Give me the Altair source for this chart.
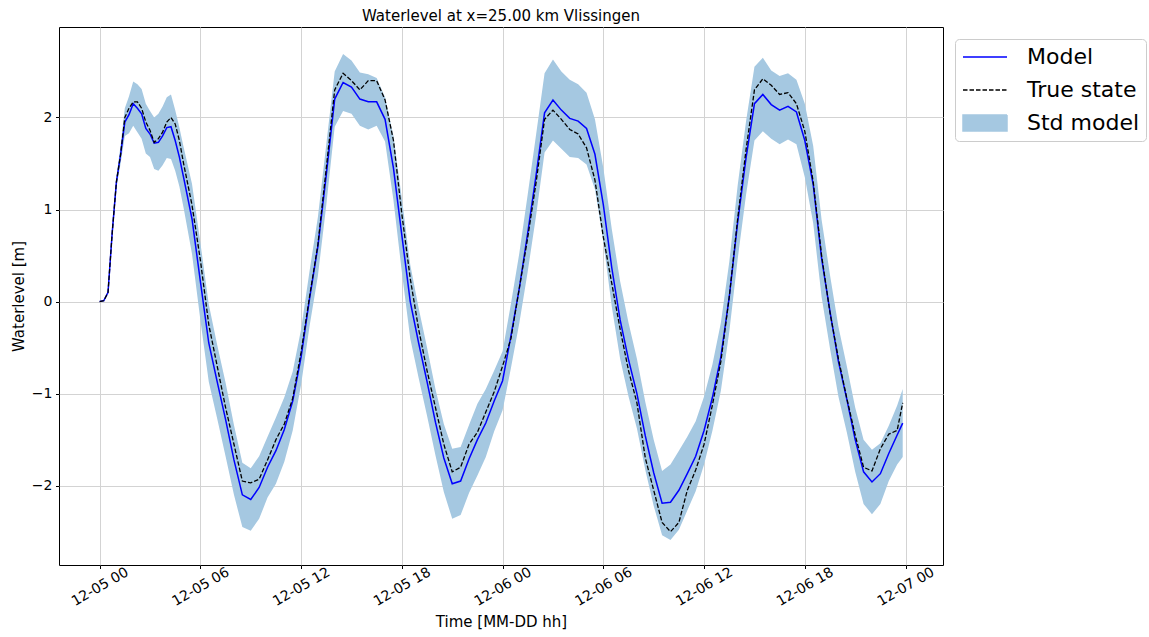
import datetime as dt
import altair as alt
import pandas as pd

# ---- data ----
hours = [0, 0.25, 0.5, 0.75, 1.0, 1.25, 1.5, 1.75, 2.0, 2.25, 2.5, 2.75, 3.0, 3.25, 3.5, 3.75,
         4.0, 4.25, 4.5, 4.75, 5.0,
         5.5, 6.0, 6.5, 7.0, 7.5, 8.0, 8.5, 9.0, 9.5, 10.0,
         10.5, 11.0, 11.5, 12.0, 12.5, 13.0, 13.5, 14.0, 14.5, 15.0,
         15.5, 16.0, 16.5, 17.0, 17.5, 18.0, 18.5, 19.0, 19.5, 20.0,
         20.5, 21.0, 21.5, 22.0, 22.5, 23.0, 23.5, 24.0, 24.5, 25.0,
         25.5, 26.0, 26.5, 27.0, 27.5, 28.0, 28.5, 29.0, 29.5, 30.0,
         30.5, 31.0, 31.5, 32.0, 32.5, 33.0, 33.5, 34.0, 34.5, 35.0,
         35.5, 36.0, 36.5, 37.0, 37.5, 38.0, 38.5, 39.0, 39.5, 40.0,
         40.5, 41.0, 41.5, 42.0, 42.5, 43.0, 43.5, 44.0, 44.5, 45.0,
         45.5, 46.0, 46.5, 47.0, 47.5, 47.83]

model = [0.0, 0.01, 0.1, 0.75, 1.3, 1.6, 1.95, 2.03, 2.15, 2.1, 2.04, 1.88, 1.82, 1.72, 1.73, 1.8,
         1.89, 1.9, 1.75, 1.57, 1.35,
         0.9, 0.22, -0.45, -0.87, -1.28, -1.72, -2.1, -2.15, -2.02, -1.8,
         -1.62, -1.39, -1.08, -0.6, 0.03, 0.6, 1.38, 2.2, 2.38, 2.33,
         2.2, 2.17, 2.17, 1.98, 1.45, 0.72, 0.0, -0.45, -0.87, -1.31,
         -1.7, -1.98, -1.95, -1.71, -1.5, -1.32, -1.08, -0.86, -0.37, 0.15,
         0.75, 1.38, 2.05, 2.19, 2.08, 1.99, 1.96, 1.88, 1.6, 1.05,
         0.37, -0.2, -0.63, -1.0, -1.46, -1.86, -2.19, -2.18, -2.05, -1.87,
         -1.68, -1.4, -1.04, -0.6, 0.05, 0.86, 1.56, 2.15, 2.25, 2.14,
         2.08, 2.12, 2.06, 1.75, 1.27, 0.47, -0.11, -0.65, -1.06, -1.5,
         -1.85, -1.96, -1.87, -1.65, -1.45, -1.32]

true_state = [0.0, 0.01, 0.1, 0.75, 1.3, 1.6, 2.0, 2.1, 2.17, 2.17, 2.1, 1.95, 1.86, 1.73, 1.77, 1.84,
              1.95, 2.0, 1.93, 1.75, 1.5,
              1.05, 0.45, -0.25, -0.7, -1.15, -1.55, -1.95, -1.97, -1.93, -1.72,
              -1.5, -1.33, -1.05, -0.55, 0.05, 0.62, 1.45, 2.3, 2.48, 2.4,
              2.3, 2.4, 2.4, 2.19, 1.75, 0.95, 0.25, -0.3, -0.75, -1.15,
              -1.55, -1.85, -1.8, -1.55, -1.42, -1.2, -0.98, -0.7, -0.4, 0.15,
              0.7, 1.3, 1.98, 2.08, 1.98, 1.87, 1.82, 1.67, 1.32, 0.7,
              0.2, -0.3, -0.75, -1.1, -1.7, -2.05, -2.4, -2.5, -2.4, -2.05,
              -1.83, -1.55, -1.12, -0.65, 0.05, 0.9, 1.65, 2.3, 2.42, 2.35,
              2.25, 2.27, 2.15, 1.85, 1.3, 0.5, -0.12, -0.62, -1.05, -1.45,
              -1.8, -1.84, -1.6, -1.44, -1.4, -1.1]

std_model = [0.0, 0.0, 0.01, 0.03, 0.06, 0.1, 0.15, 0.2, 0.24, 0.26, 0.27, 0.27, 0.25, 0.28, 0.31, 0.32,
             0.33, 0.35, 0.33, 0.32, 0.33,
             0.38, 0.42, 0.42, 0.4, 0.4, 0.38, 0.35, 0.34, 0.34, 0.33,
             0.36, 0.35, 0.32, 0.3, 0.3, 0.32, 0.33, 0.3, 0.31, 0.29,
             0.29, 0.3, 0.26, 0.24, 0.35, 0.4, 0.4, 0.38, 0.37, 0.36,
             0.37, 0.38, 0.37, 0.37, 0.39, 0.37, 0.33, 0.32, 0.35, 0.38,
             0.42, 0.44, 0.43, 0.44, 0.42, 0.42, 0.4, 0.39, 0.38, 0.4,
             0.42, 0.42, 0.4, 0.38, 0.37, 0.36, 0.35, 0.41, 0.43, 0.4,
             0.38, 0.37, 0.36, 0.37, 0.38, 0.4, 0.4, 0.4, 0.4, 0.37,
             0.37, 0.36, 0.35, 0.4, 0.42, 0.42, 0.4, 0.38, 0.36, 0.35,
             0.35, 0.35, 0.33, 0.3, 0.32, 0.37]

series_names = ["Model", "True state", "Std model"]
series_colors = ["blue", "black", "#a5c8e1"]
y_ticks = [-2, -1, 0, 1, 2]
x_tick_hours = [0, 6, 12, 18, 24, 30, 36, 42, 48]

start = dt.datetime(2023, 12, 5, tzinfo=dt.timezone.utc)


def iso(h):
    return (start + dt.timedelta(hours=h)).strftime("%Y-%m-%dT%H:%M:%SZ")


def ms(h):
    return int((start + dt.timedelta(hours=h)).timestamp() * 1000)


df = pd.DataFrame({
    "time": [iso(h) for h in hours],
    "model": model,
    "truth": true_state,
    "std": std_model,
})

FONT = "DejaVu Sans"

x_enc = alt.X(
    "time:T",
    scale=alt.Scale(type="utc", domain=[ms(-2.42), ms(50.23)], nice=False),
    axis=alt.Axis(
        title="Time [MM-DD hh]",
        values=[ms(h) for h in x_tick_hours],
        labelExpr="utcFormat(datum.value, '%m-%d %H')",
        labelAngle=330,
        labelAlign="center",
        labelBaseline="middle",
        labelPadding=18,
        tickSize=3.5,
        titlePadding=6,
    ),
)
y_scale = alt.Scale(domain=[-2.862, 2.983], nice=False, zero=False)
y_axis = alt.Axis(title="Waterlevel [m]", values=y_ticks, tickSize=3.5, labelPadding=3.5,
                  titlePadding=5)

band = (
    alt.Chart(df)
    .transform_calculate(lo="datum.model - datum.std", hi="datum.model + datum.std")
    .mark_area(color="#a5c8e1", opacity=1, interpolate="linear")
    .encode(x=x_enc, y=alt.Y("lo:Q", scale=y_scale, axis=y_axis), y2="hi:Q")
)

model_line = (
    alt.Chart(df)
    .mark_line(color="blue", strokeWidth=1.5)
    .encode(x=x_enc, y=alt.Y("model:Q", scale=y_scale, axis=y_axis))
)

true_line = (
    alt.Chart(df)
    .mark_line(color="black", strokeWidth=1.3, strokeDash=[4.5, 2])
    .encode(x=x_enc, y=alt.Y("truth:Q", scale=y_scale, axis=y_axis))
)

legend_layer = (
    alt.Chart(df)
    .transform_filter("false")
    .transform_calculate(series="'Model'")
    .mark_line()
    .encode(
        x=x_enc,
        y=alt.Y("model:Q", scale=y_scale, axis=y_axis),
        color=alt.Color(
            "series:N",
            scale=alt.Scale(domain=series_names, range=series_colors),
            legend=alt.Legend(
                title=None,
                orient="none",
                legendX=896,
                legendY=12,
                padding=6,
                labelFont=FONT,
                labelFontSize=22,
                labelColor="black",
                labelLimit=300,
                symbolSize=484,
                symbolStrokeWidth=1.5,
                symbolOffset=12,
                labelOffset=30,
                rowPadding=10,
                symbolType=alt.ExprRef(
                    "datum.value === 'Std model' ? 'M-2,-0.73H2V0.73H-2Z' : 'M-2,0H2'"),
                symbolFillColor=alt.ExprRef(
                    "datum.value === 'Std model' ? '#a5c8e1' : 'transparent'"),
                symbolDash=alt.ExprRef(
                    "datum.value === 'True state' ? [4.5, 2] : [1, 0]"),
                strokeColor="#cccccc",
                fillColor="rgba(255,255,255,0.8)",
                cornerRadius=4,
            ),
        ),
    )
)

chart = (
    alt.layer(band, model_line, true_line, legend_layer)
    .properties(
        width=884,
        height=538,
        title=alt.TitleParams(
            "Waterlevel at x=25.00 km Vlissingen",
            font=FONT, fontSize=15, fontWeight="normal", color="black", offset=3,
        ),
        autosize=alt.AutoSizeParams(type="none"),
        padding={"left": 59, "top": 27, "right": 206, "bottom": 72},
    )
    .configure_view(stroke="black", strokeWidth=1)
    .configure_axis(
        labelFont=FONT, labelFontSize=14, labelColor="black",
        titleFont=FONT, titleFontSize=15, titleFontWeight="normal", titleColor="black",
        grid=True, gridColor="#d3d3d3", gridWidth=1,
        domain=False, tickColor="black", tickWidth=1,
    )
)

chart.save("out.html", embed_options={"renderer": "svg", "actions": False})
